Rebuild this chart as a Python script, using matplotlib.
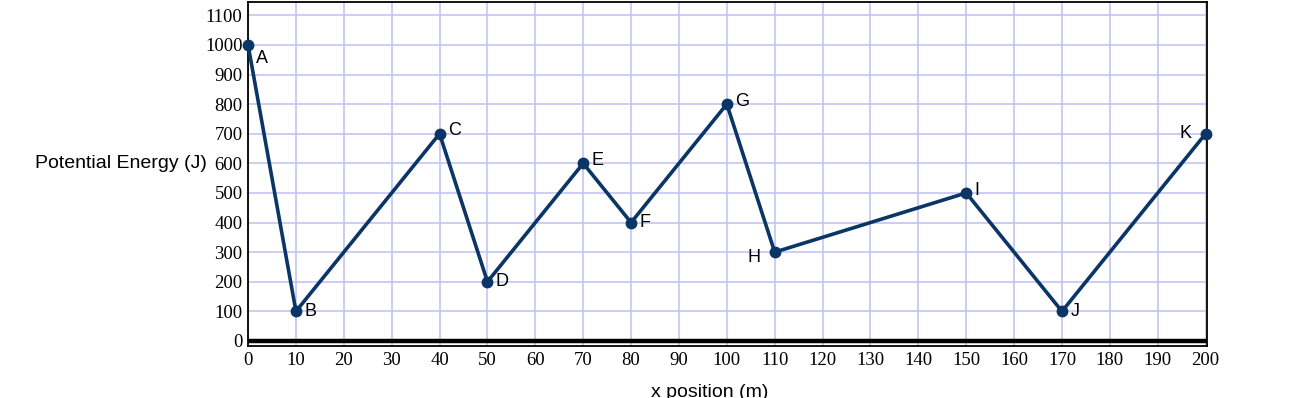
import matplotlib.pyplot as plt
import numpy as np

# values
x_pos = [0, 10, 40, 50, 70, 80, 100, 110, 150, 170, 200]
energy = [1000, 100, 700, 200, 600, 400, 800, 300, 500, 100, 700]
names = ["A", "B", "C", "D", "E", "F", "G", "H", "I", "J", "K"]
# label offsets in points (dx, dy)
offsets = [(6, -10), (6, 0), (6, 2), (6, 0), (6, 2), (6, 0), (6, 2), (-10, -4), (6, 2), (6, 0), (-10, 0)]

line_col = "#0b3566"
grid_col = "#c4c4f4"

fig = plt.figure(figsize=(12.94, 3.98), dpi=100)
ax = fig.add_axes([0.1917, 0.1307, 0.7411, 0.8643])

ax.set_xlim(0, 200.3)
ax.set_ylim(-17, 1145)
ax.set_xticks(np.arange(0, 201, 10))
ax.set_yticks(np.arange(0, 1101, 100))
ax.grid(True, color=grid_col, linewidth=1.2, zorder=0)
ax.set_axisbelow(True)

ax.axhline(0, color="black", linewidth=3.2, zorder=2)

ax.plot(x_pos, energy, color=line_col, linewidth=2.6, marker="o",
        markersize=7.5, zorder=3, clip_on=False)

for xv, yv, name, (dx, dy) in zip(x_pos, energy, names, offsets):
    ax.annotate(name, (xv, yv), xytext=(dx, dy), textcoords="offset points",
                ha="left" if dx > 0 else "right", va="center",
                fontsize=13, family="Liberation Sans")

for s in ax.spines.values():
    s.set_linewidth(1.3)
ax.tick_params(length=0, pad=4)
for lab in ax.get_xticklabels() + ax.get_yticklabels():
    lab.set_family("Liberation Serif")
    lab.set_fontsize(13.5)

ax.set_ylabel("Potential Energy (J)", rotation=0, ha="right", va="center",
              fontsize=14, family="Liberation Sans")
ax.yaxis.set_label_coords(-0.0425, (600 + 17) / 1162)
ax.set_xlabel("x position (m)", fontsize=14, family="Liberation Sans", labelpad=10)
ax.xaxis.set_label_coords(0.481, -0.11)

fig.savefig("out.png", dpi=100)
